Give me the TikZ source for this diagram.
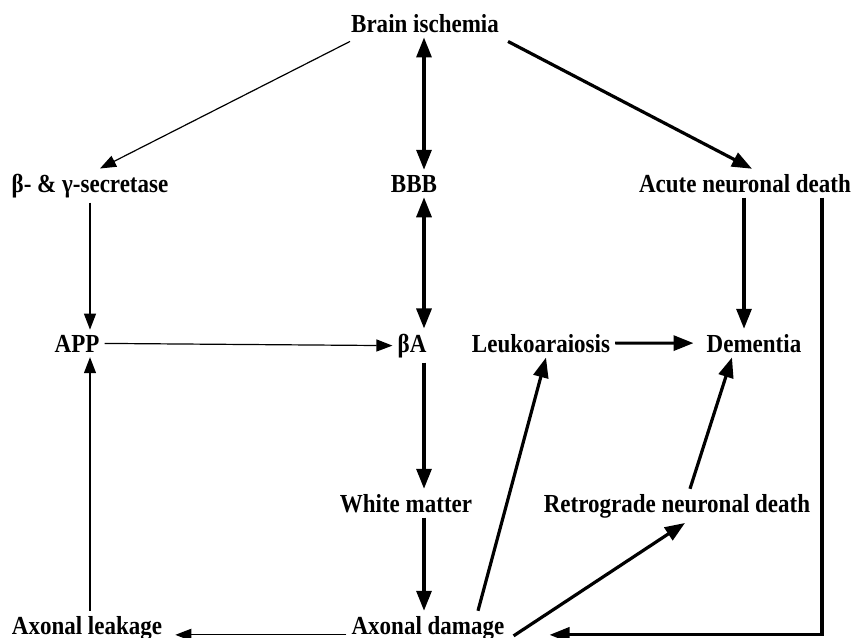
\documentclass[tikz,border=0pt]{standalone}
\usepackage{fontspec}
\newfontfamily\diagfont{Liberation Serif}[FakeStretch=0.885]
\usetikzlibrary{arrows.meta}
\tikzset{
  lbl/.style={font=\diagfont\bfseries\fontsize{26}{30}\selectfont, anchor=base, inner sep=5pt},
  thinarr/.style={-{Triangle[length=16pt,width=12pt]}, line width=1.2pt},
  thickarr/.style={-{Triangle[length=20pt,width=15pt]}, line width=3.2pt},
  thickboth/.style={{Triangle[length=20pt,width=15pt]}-{Triangle[length=20pt,width=15pt]}, line width=3.2pt},
}
\begin{document}
\begin{tikzpicture}[x=1pt,y=-1pt]
    \useasboundingbox (0,0) rectangle (859,637);
    \coordinate (axis) at (424,0);

    % labels
    \node[lbl] (brain)     at (425,32)  {Brain ischemia};
    \node[lbl] (secretase) at (90,192)  {β- \& γ-secretase};
    \node[lbl] (bbb)       at (414,192) {BBB};
    \node[lbl] (acute)     at (745,192) {Acute neuronal death};
    \node[lbl] (app)       at (77,352)  {APP};
    \node[lbl] (betaA)     at (412,352) {βA};
    \node[lbl] (leuko)     at (541,352) {Leukoaraiosis};
    \node[lbl] (dementia)  at (754,352) {Dementia};
    \node[lbl] (white)     at (406,512) {White matter};
    \node[lbl] (retro)     at (677,512) {Retrograde neuronal death};
    \node[lbl] (leakage)   at (87,634)  {Axonal leakage};
    \node[lbl] (damage)    at (428,634) {Axonal damage};

    % arrows
    \draw[thinarr]   ([xshift=4pt,yshift=-4pt]brain.south west) -- ([xshift=10pt]secretase.north);
    \draw[thickboth] (brain.south -| axis) -- (bbb.north -| axis);
    \draw[thickarr]  ([xshift=4pt,yshift=-4pt]brain.south east) -- ([xshift=7pt]acute.north);
    \draw[thinarr]   (secretase.south) -- (secretase.south |- app.north);
    \draw[thickboth] (bbb.south -| axis) -- (betaA.north -| axis);
    \draw[thickarr]  ([xshift=-1pt]acute.south) -- ([xshift=-1pt]acute.south |- dementia.north);
    \draw[thinarr]   (app.east) -- (betaA.west);
    \draw[thickarr]  (leuko.east) -- ([xshift=-8pt]dementia.west);
    \draw[thickarr]  (betaA.south -| axis) -- (white.north -| axis);
    \draw[thickarr]  (white.south -| axis) -- (damage.north -| axis);
    \draw[thinarr]   ([yshift=-7pt]damage.west) -- ([xshift=8pt,yshift=-7pt]leakage.east);
    \draw[thinarr]   (leakage.north -| secretase.south) -- (app.south -| secretase.south);
    \draw[thickarr]  ([xshift=50pt]damage.north) -- ([xshift=5pt]leuko.south);
    \draw[thickarr]  ([xshift=4pt,yshift=-8pt]damage.east) -- ([xshift=8pt]retro.south);
    \draw[thickarr]  ([xshift=13pt]retro.north) -- ([xshift=-22pt]dementia.south);
    \draw[thickarr]  ([xshift=77pt]acute.south) |- ([xshift=40pt,yshift=-7pt]damage.east);
\end{tikzpicture}
\end{document}
